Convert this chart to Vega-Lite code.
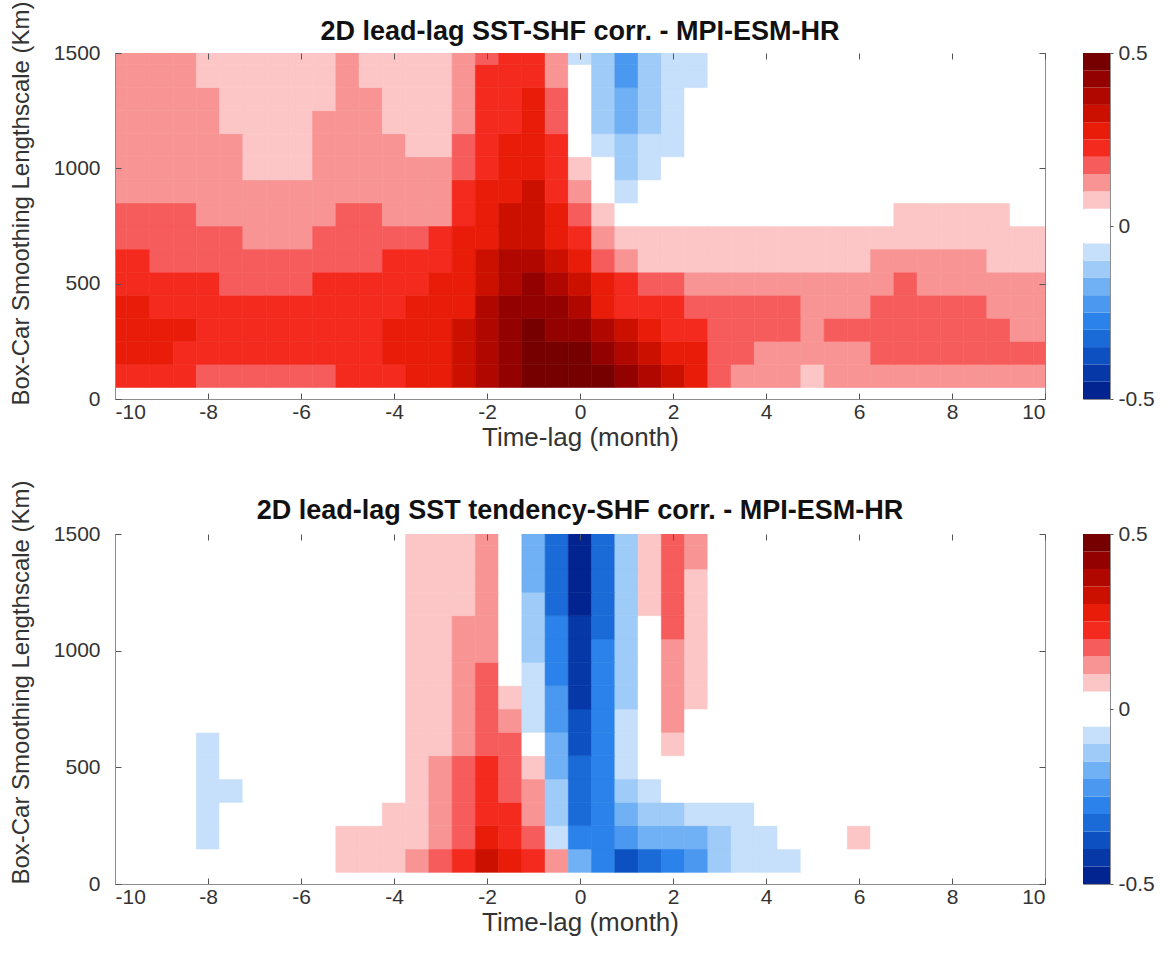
{
"$schema":"https://vega.github.io/schema/vega-lite/v6.json",
"background":"white",
"padding":{"left":8,"top":0,"right":5,"bottom":5},
"config":{"font":"Liberation Sans","view":{"stroke":"#8c8c8c","strokeWidth":1},
"axis":{"labelFont":"Liberation Sans","labelFontSize":21,"labelColor":"#333333","titleFont":"Liberation Sans","titleFontSize":25,"titleFontWeight":"normal","titleColor":"#333333","domainColor":"#8c8c8c","tickColor":"#555555","grid":false},
"title":{"font":"Liberation Sans","fontSize":27,"fontWeight":"bold","color":"#111111","offset":-45,"frame":"group"}},
"datasets":{
"bar":[{"lo":-0.5,"hi":-0.45},{"lo":-0.45,"hi":-0.4},{"lo":-0.4,"hi":-0.35},{"lo":-0.35,"hi":-0.3},{"lo":-0.3,"hi":-0.25},{"lo":-0.25,"hi":-0.2},{"lo":-0.2,"hi":-0.15},{"lo":-0.15,"hi":-0.1},{"lo":-0.1,"hi":-0.05},{"lo":-0.05,"hi":0},{"lo":0,"hi":0.05},{"lo":0.05,"hi":0.1},{"lo":0.1,"hi":0.15},{"lo":0.15,"hi":0.2},{"lo":0.2,"hi":0.25},{"lo":0.25,"hi":0.3},{"lo":0.3,"hi":0.35},{"lo":0.35,"hi":0.4},{"lo":0.4,"hi":0.45},{"lo":0.45,"hi":0.5}],
"sst":[
{"lag":-10,"km":100,"r":0.23},{"lag":-9.5,"km":100,"r":0.23},{"lag":-9,"km":100,"r":0.23},{"lag":-8.5,"km":100,"r":0.23},{"lag":-8,"km":100,"r":0.18},{"lag":-7.5,"km":100,"r":0.18},{"lag":-7,"km":100,"r":0.18},{"lag":-6.5,"km":100,"r":0.18},{"lag":-6,"km":100,"r":0.18},{"lag":-5.5,"km":100,"r":0.18},{"lag":-5,"km":100,"r":0.23},{"lag":-4.5,"km":100,"r":0.23},{"lag":-4,"km":100,"r":0.23},{"lag":-3.5,"km":100,"r":0.28},{"lag":-3,"km":100,"r":0.28},{"lag":-2.5,"km":100,"r":0.33},{"lag":-2,"km":100,"r":0.38},{"lag":-1.5,"km":100,"r":0.43},{"lag":-1,"km":100,"r":0.48},{"lag":-0.5,"km":100,"r":0.48},{"lag":0,"km":100,"r":0.48},{"lag":0.5,"km":100,"r":0.48},{"lag":1,"km":100,"r":0.43},{"lag":1.5,"km":100,"r":0.38},{"lag":2,"km":100,"r":0.33},{"lag":2.5,"km":100,"r":0.28},{"lag":3,"km":100,"r":0.18},{"lag":3.5,"km":100,"r":0.13},{"lag":4,"km":100,"r":0.13},{"lag":4.5,"km":100,"r":0.13},{"lag":5,"km":100,"r":0.08},{"lag":5.5,"km":100,"r":0.13},{"lag":6,"km":100,"r":0.13},{"lag":6.5,"km":100,"r":0.13},{"lag":7,"km":100,"r":0.13},{"lag":7.5,"km":100,"r":0.13},{"lag":8,"km":100,"r":0.13},{"lag":8.5,"km":100,"r":0.13},{"lag":9,"km":100,"r":0.13},{"lag":9.5,"km":100,"r":0.13},{"lag":10,"km":100,"r":0.13},
{"lag":-10,"km":200,"r":0.28},{"lag":-9.5,"km":200,"r":0.28},{"lag":-9,"km":200,"r":0.28},{"lag":-8.5,"km":200,"r":0.23},{"lag":-8,"km":200,"r":0.23},{"lag":-7.5,"km":200,"r":0.23},{"lag":-7,"km":200,"r":0.23},{"lag":-6.5,"km":200,"r":0.23},{"lag":-6,"km":200,"r":0.23},{"lag":-5.5,"km":200,"r":0.23},{"lag":-5,"km":200,"r":0.23},{"lag":-4.5,"km":200,"r":0.23},{"lag":-4,"km":200,"r":0.28},{"lag":-3.5,"km":200,"r":0.28},{"lag":-3,"km":200,"r":0.28},{"lag":-2.5,"km":200,"r":0.33},{"lag":-2,"km":200,"r":0.38},{"lag":-1.5,"km":200,"r":0.43},{"lag":-1,"km":200,"r":0.48},{"lag":-0.5,"km":200,"r":0.48},{"lag":0,"km":200,"r":0.48},{"lag":0.5,"km":200,"r":0.43},{"lag":1,"km":200,"r":0.38},{"lag":1.5,"km":200,"r":0.33},{"lag":2,"km":200,"r":0.28},{"lag":2.5,"km":200,"r":0.28},{"lag":3,"km":200,"r":0.18},{"lag":3.5,"km":200,"r":0.18},{"lag":4,"km":200,"r":0.13},{"lag":4.5,"km":200,"r":0.13},{"lag":5,"km":200,"r":0.13},{"lag":5.5,"km":200,"r":0.13},{"lag":6,"km":200,"r":0.13},{"lag":6.5,"km":200,"r":0.18},{"lag":7,"km":200,"r":0.18},{"lag":7.5,"km":200,"r":0.18},{"lag":8,"km":200,"r":0.18},{"lag":8.5,"km":200,"r":0.18},{"lag":9,"km":200,"r":0.18},{"lag":9.5,"km":200,"r":0.18},{"lag":10,"km":200,"r":0.18},
{"lag":-10,"km":300,"r":0.28},{"lag":-9.5,"km":300,"r":0.28},{"lag":-9,"km":300,"r":0.28},{"lag":-8.5,"km":300,"r":0.28},{"lag":-8,"km":300,"r":0.23},{"lag":-7.5,"km":300,"r":0.23},{"lag":-7,"km":300,"r":0.23},{"lag":-6.5,"km":300,"r":0.23},{"lag":-6,"km":300,"r":0.23},{"lag":-5.5,"km":300,"r":0.23},{"lag":-5,"km":300,"r":0.23},{"lag":-4.5,"km":300,"r":0.23},{"lag":-4,"km":300,"r":0.28},{"lag":-3.5,"km":300,"r":0.28},{"lag":-3,"km":300,"r":0.28},{"lag":-2.5,"km":300,"r":0.33},{"lag":-2,"km":300,"r":0.38},{"lag":-1.5,"km":300,"r":0.43},{"lag":-1,"km":300,"r":0.48},{"lag":-0.5,"km":300,"r":0.43},{"lag":0,"km":300,"r":0.43},{"lag":0.5,"km":300,"r":0.38},{"lag":1,"km":300,"r":0.33},{"lag":1.5,"km":300,"r":0.28},{"lag":2,"km":300,"r":0.23},{"lag":2.5,"km":300,"r":0.23},{"lag":3,"km":300,"r":0.18},{"lag":3.5,"km":300,"r":0.18},{"lag":4,"km":300,"r":0.18},{"lag":4.5,"km":300,"r":0.18},{"lag":5,"km":300,"r":0.13},{"lag":5.5,"km":300,"r":0.18},{"lag":6,"km":300,"r":0.18},{"lag":6.5,"km":300,"r":0.18},{"lag":7,"km":300,"r":0.18},{"lag":7.5,"km":300,"r":0.18},{"lag":8,"km":300,"r":0.18},{"lag":8.5,"km":300,"r":0.18},{"lag":9,"km":300,"r":0.18},{"lag":9.5,"km":300,"r":0.13},{"lag":10,"km":300,"r":0.13},
{"lag":-10,"km":400,"r":0.28},{"lag":-9.5,"km":400,"r":0.28},{"lag":-9,"km":400,"r":0.23},{"lag":-8.5,"km":400,"r":0.23},{"lag":-8,"km":400,"r":0.23},{"lag":-7.5,"km":400,"r":0.23},{"lag":-7,"km":400,"r":0.23},{"lag":-6.5,"km":400,"r":0.23},{"lag":-6,"km":400,"r":0.23},{"lag":-5.5,"km":400,"r":0.23},{"lag":-5,"km":400,"r":0.23},{"lag":-4.5,"km":400,"r":0.23},{"lag":-4,"km":400,"r":0.23},{"lag":-3.5,"km":400,"r":0.28},{"lag":-3,"km":400,"r":0.28},{"lag":-2.5,"km":400,"r":0.28},{"lag":-2,"km":400,"r":0.38},{"lag":-1.5,"km":400,"r":0.43},{"lag":-1,"km":400,"r":0.43},{"lag":-0.5,"km":400,"r":0.43},{"lag":0,"km":400,"r":0.38},{"lag":0.5,"km":400,"r":0.28},{"lag":1,"km":400,"r":0.23},{"lag":1.5,"km":400,"r":0.23},{"lag":2,"km":400,"r":0.23},{"lag":2.5,"km":400,"r":0.18},{"lag":3,"km":400,"r":0.18},{"lag":3.5,"km":400,"r":0.18},{"lag":4,"km":400,"r":0.18},{"lag":4.5,"km":400,"r":0.18},{"lag":5,"km":400,"r":0.13},{"lag":5.5,"km":400,"r":0.13},{"lag":6,"km":400,"r":0.13},{"lag":6.5,"km":400,"r":0.18},{"lag":7,"km":400,"r":0.18},{"lag":7.5,"km":400,"r":0.18},{"lag":8,"km":400,"r":0.18},{"lag":8.5,"km":400,"r":0.18},{"lag":9,"km":400,"r":0.13},{"lag":9.5,"km":400,"r":0.13},{"lag":10,"km":400,"r":0.13},
{"lag":-10,"km":500,"r":0.23},{"lag":-9.5,"km":500,"r":0.23},{"lag":-9,"km":500,"r":0.23},{"lag":-8.5,"km":500,"r":0.23},{"lag":-8,"km":500,"r":0.23},{"lag":-7.5,"km":500,"r":0.18},{"lag":-7,"km":500,"r":0.18},{"lag":-6.5,"km":500,"r":0.18},{"lag":-6,"km":500,"r":0.18},{"lag":-5.5,"km":500,"r":0.23},{"lag":-5,"km":500,"r":0.23},{"lag":-4.5,"km":500,"r":0.23},{"lag":-4,"km":500,"r":0.23},{"lag":-3.5,"km":500,"r":0.23},{"lag":-3,"km":500,"r":0.28},{"lag":-2.5,"km":500,"r":0.28},{"lag":-2,"km":500,"r":0.33},{"lag":-1.5,"km":500,"r":0.38},{"lag":-1,"km":500,"r":0.43},{"lag":-0.5,"km":500,"r":0.38},{"lag":0,"km":500,"r":0.33},{"lag":0.5,"km":500,"r":0.28},{"lag":1,"km":500,"r":0.23},{"lag":1.5,"km":500,"r":0.18},{"lag":2,"km":500,"r":0.18},{"lag":2.5,"km":500,"r":0.13},{"lag":3,"km":500,"r":0.13},{"lag":3.5,"km":500,"r":0.13},{"lag":4,"km":500,"r":0.13},{"lag":4.5,"km":500,"r":0.13},{"lag":5,"km":500,"r":0.13},{"lag":5.5,"km":500,"r":0.13},{"lag":6,"km":500,"r":0.13},{"lag":6.5,"km":500,"r":0.13},{"lag":7,"km":500,"r":0.18},{"lag":7.5,"km":500,"r":0.13},{"lag":8,"km":500,"r":0.13},{"lag":8.5,"km":500,"r":0.13},{"lag":9,"km":500,"r":0.13},{"lag":9.5,"km":500,"r":0.13},{"lag":10,"km":500,"r":0.13},
{"lag":-10,"km":600,"r":0.23},{"lag":-9.5,"km":600,"r":0.23},{"lag":-9,"km":600,"r":0.18},{"lag":-8.5,"km":600,"r":0.18},{"lag":-8,"km":600,"r":0.18},{"lag":-7.5,"km":600,"r":0.18},{"lag":-7,"km":600,"r":0.18},{"lag":-6.5,"km":600,"r":0.18},{"lag":-6,"km":600,"r":0.18},{"lag":-5.5,"km":600,"r":0.18},{"lag":-5,"km":600,"r":0.18},{"lag":-4.5,"km":600,"r":0.18},{"lag":-4,"km":600,"r":0.23},{"lag":-3.5,"km":600,"r":0.23},{"lag":-3,"km":600,"r":0.23},{"lag":-2.5,"km":600,"r":0.28},{"lag":-2,"km":600,"r":0.33},{"lag":-1.5,"km":600,"r":0.38},{"lag":-1,"km":600,"r":0.38},{"lag":-0.5,"km":600,"r":0.33},{"lag":0,"km":600,"r":0.28},{"lag":0.5,"km":600,"r":0.18},{"lag":1,"km":600,"r":0.13},{"lag":1.5,"km":600,"r":0.08},{"lag":2,"km":600,"r":0.08},{"lag":2.5,"km":600,"r":0.08},{"lag":3,"km":600,"r":0.08},{"lag":3.5,"km":600,"r":0.08},{"lag":4,"km":600,"r":0.08},{"lag":4.5,"km":600,"r":0.08},{"lag":5,"km":600,"r":0.08},{"lag":5.5,"km":600,"r":0.08},{"lag":6,"km":600,"r":0.08},{"lag":6.5,"km":600,"r":0.13},{"lag":7,"km":600,"r":0.13},{"lag":7.5,"km":600,"r":0.13},{"lag":8,"km":600,"r":0.13},{"lag":8.5,"km":600,"r":0.13},{"lag":9,"km":600,"r":0.08},{"lag":9.5,"km":600,"r":0.08},{"lag":10,"km":600,"r":0.08},
{"lag":-10,"km":700,"r":0.18},{"lag":-9.5,"km":700,"r":0.18},{"lag":-9,"km":700,"r":0.18},{"lag":-8.5,"km":700,"r":0.18},{"lag":-8,"km":700,"r":0.18},{"lag":-7.5,"km":700,"r":0.18},{"lag":-7,"km":700,"r":0.13},{"lag":-6.5,"km":700,"r":0.13},{"lag":-6,"km":700,"r":0.13},{"lag":-5.5,"km":700,"r":0.18},{"lag":-5,"km":700,"r":0.18},{"lag":-4.5,"km":700,"r":0.18},{"lag":-4,"km":700,"r":0.18},{"lag":-3.5,"km":700,"r":0.18},{"lag":-3,"km":700,"r":0.23},{"lag":-2.5,"km":700,"r":0.28},{"lag":-2,"km":700,"r":0.28},{"lag":-1.5,"km":700,"r":0.33},{"lag":-1,"km":700,"r":0.33},{"lag":-0.5,"km":700,"r":0.28},{"lag":0,"km":700,"r":0.23},{"lag":0.5,"km":700,"r":0.13},{"lag":1,"km":700,"r":0.08},{"lag":1.5,"km":700,"r":0.08},{"lag":2,"km":700,"r":0.08},{"lag":2.5,"km":700,"r":0.08},{"lag":3,"km":700,"r":0.08},{"lag":3.5,"km":700,"r":0.08},{"lag":4,"km":700,"r":0.08},{"lag":4.5,"km":700,"r":0.08},{"lag":5,"km":700,"r":0.08},{"lag":5.5,"km":700,"r":0.08},{"lag":6,"km":700,"r":0.08},{"lag":6.5,"km":700,"r":0.08},{"lag":7,"km":700,"r":0.08},{"lag":7.5,"km":700,"r":0.08},{"lag":8,"km":700,"r":0.08},{"lag":8.5,"km":700,"r":0.08},{"lag":9,"km":700,"r":0.08},{"lag":9.5,"km":700,"r":0.08},{"lag":10,"km":700,"r":0.08},
{"lag":-10,"km":800,"r":0.18},{"lag":-9.5,"km":800,"r":0.18},{"lag":-9,"km":800,"r":0.18},{"lag":-8.5,"km":800,"r":0.18},{"lag":-8,"km":800,"r":0.13},{"lag":-7.5,"km":800,"r":0.13},{"lag":-7,"km":800,"r":0.13},{"lag":-6.5,"km":800,"r":0.13},{"lag":-6,"km":800,"r":0.13},{"lag":-5.5,"km":800,"r":0.13},{"lag":-5,"km":800,"r":0.18},{"lag":-4.5,"km":800,"r":0.18},{"lag":-4,"km":800,"r":0.13},{"lag":-3.5,"km":800,"r":0.13},{"lag":-3,"km":800,"r":0.13},{"lag":-2.5,"km":800,"r":0.23},{"lag":-2,"km":800,"r":0.28},{"lag":-1.5,"km":800,"r":0.33},{"lag":-1,"km":800,"r":0.33},{"lag":-0.5,"km":800,"r":0.28},{"lag":0,"km":800,"r":0.18},{"lag":0.5,"km":800,"r":0.08},{"lag":1,"km":800,"r":0},{"lag":1.5,"km":800,"r":0},{"lag":2,"km":800,"r":0},{"lag":2.5,"km":800,"r":0},{"lag":3,"km":800,"r":0},{"lag":3.5,"km":800,"r":0},{"lag":4,"km":800,"r":0},{"lag":4.5,"km":800,"r":0},{"lag":5,"km":800,"r":0},{"lag":5.5,"km":800,"r":0},{"lag":6,"km":800,"r":0},{"lag":6.5,"km":800,"r":0},{"lag":7,"km":800,"r":0.08},{"lag":7.5,"km":800,"r":0.08},{"lag":8,"km":800,"r":0.08},{"lag":8.5,"km":800,"r":0.08},{"lag":9,"km":800,"r":0.08},{"lag":9.5,"km":800,"r":0},{"lag":10,"km":800,"r":0},
{"lag":-10,"km":900,"r":0.13},{"lag":-9.5,"km":900,"r":0.13},{"lag":-9,"km":900,"r":0.13},{"lag":-8.5,"km":900,"r":0.13},{"lag":-8,"km":900,"r":0.13},{"lag":-7.5,"km":900,"r":0.13},{"lag":-7,"km":900,"r":0.13},{"lag":-6.5,"km":900,"r":0.13},{"lag":-6,"km":900,"r":0.13},{"lag":-5.5,"km":900,"r":0.13},{"lag":-5,"km":900,"r":0.13},{"lag":-4.5,"km":900,"r":0.13},{"lag":-4,"km":900,"r":0.13},{"lag":-3.5,"km":900,"r":0.13},{"lag":-3,"km":900,"r":0.13},{"lag":-2.5,"km":900,"r":0.23},{"lag":-2,"km":900,"r":0.28},{"lag":-1.5,"km":900,"r":0.28},{"lag":-1,"km":900,"r":0.33},{"lag":-0.5,"km":900,"r":0.23},{"lag":0,"km":900,"r":0.13},{"lag":0.5,"km":900,"r":0},{"lag":1,"km":900,"r":-0.08},{"lag":1.5,"km":900,"r":0},{"lag":2,"km":900,"r":0},{"lag":2.5,"km":900,"r":0},{"lag":3,"km":900,"r":0},{"lag":3.5,"km":900,"r":0},{"lag":4,"km":900,"r":0},{"lag":4.5,"km":900,"r":0},{"lag":5,"km":900,"r":0},{"lag":5.5,"km":900,"r":0},{"lag":6,"km":900,"r":0},{"lag":6.5,"km":900,"r":0},{"lag":7,"km":900,"r":0},{"lag":7.5,"km":900,"r":0},{"lag":8,"km":900,"r":0},{"lag":8.5,"km":900,"r":0},{"lag":9,"km":900,"r":0},{"lag":9.5,"km":900,"r":0},{"lag":10,"km":900,"r":0},
{"lag":-10,"km":1000,"r":0.13},{"lag":-9.5,"km":1000,"r":0.13},{"lag":-9,"km":1000,"r":0.13},{"lag":-8.5,"km":1000,"r":0.13},{"lag":-8,"km":1000,"r":0.13},{"lag":-7.5,"km":1000,"r":0.13},{"lag":-7,"km":1000,"r":0.08},{"lag":-6.5,"km":1000,"r":0.08},{"lag":-6,"km":1000,"r":0.08},{"lag":-5.5,"km":1000,"r":0.13},{"lag":-5,"km":1000,"r":0.13},{"lag":-4.5,"km":1000,"r":0.13},{"lag":-4,"km":1000,"r":0.13},{"lag":-3.5,"km":1000,"r":0.13},{"lag":-3,"km":1000,"r":0.13},{"lag":-2.5,"km":1000,"r":0.18},{"lag":-2,"km":1000,"r":0.23},{"lag":-1.5,"km":1000,"r":0.28},{"lag":-1,"km":1000,"r":0.28},{"lag":-0.5,"km":1000,"r":0.23},{"lag":0,"km":1000,"r":0.08},{"lag":0.5,"km":1000,"r":0},{"lag":1,"km":1000,"r":-0.13},{"lag":1.5,"km":1000,"r":-0.08},{"lag":2,"km":1000,"r":0},{"lag":2.5,"km":1000,"r":0},{"lag":3,"km":1000,"r":0},{"lag":3.5,"km":1000,"r":0},{"lag":4,"km":1000,"r":0},{"lag":4.5,"km":1000,"r":0},{"lag":5,"km":1000,"r":0},{"lag":5.5,"km":1000,"r":0},{"lag":6,"km":1000,"r":0},{"lag":6.5,"km":1000,"r":0},{"lag":7,"km":1000,"r":0},{"lag":7.5,"km":1000,"r":0},{"lag":8,"km":1000,"r":0},{"lag":8.5,"km":1000,"r":0},{"lag":9,"km":1000,"r":0},{"lag":9.5,"km":1000,"r":0},{"lag":10,"km":1000,"r":0},
{"lag":-10,"km":1100,"r":0.13},{"lag":-9.5,"km":1100,"r":0.13},{"lag":-9,"km":1100,"r":0.13},{"lag":-8.5,"km":1100,"r":0.13},{"lag":-8,"km":1100,"r":0.13},{"lag":-7.5,"km":1100,"r":0.13},{"lag":-7,"km":1100,"r":0.08},{"lag":-6.5,"km":1100,"r":0.08},{"lag":-6,"km":1100,"r":0.08},{"lag":-5.5,"km":1100,"r":0.13},{"lag":-5,"km":1100,"r":0.13},{"lag":-4.5,"km":1100,"r":0.13},{"lag":-4,"km":1100,"r":0.13},{"lag":-3.5,"km":1100,"r":0.08},{"lag":-3,"km":1100,"r":0.08},{"lag":-2.5,"km":1100,"r":0.18},{"lag":-2,"km":1100,"r":0.23},{"lag":-1.5,"km":1100,"r":0.28},{"lag":-1,"km":1100,"r":0.28},{"lag":-0.5,"km":1100,"r":0.23},{"lag":0,"km":1100,"r":0},{"lag":0.5,"km":1100,"r":-0.08},{"lag":1,"km":1100,"r":-0.13},{"lag":1.5,"km":1100,"r":-0.08},{"lag":2,"km":1100,"r":-0.08},{"lag":2.5,"km":1100,"r":0},{"lag":3,"km":1100,"r":0},{"lag":3.5,"km":1100,"r":0},{"lag":4,"km":1100,"r":0},{"lag":4.5,"km":1100,"r":0},{"lag":5,"km":1100,"r":0},{"lag":5.5,"km":1100,"r":0},{"lag":6,"km":1100,"r":0},{"lag":6.5,"km":1100,"r":0},{"lag":7,"km":1100,"r":0},{"lag":7.5,"km":1100,"r":0},{"lag":8,"km":1100,"r":0},{"lag":8.5,"km":1100,"r":0},{"lag":9,"km":1100,"r":0},{"lag":9.5,"km":1100,"r":0},{"lag":10,"km":1100,"r":0},
{"lag":-10,"km":1200,"r":0.13},{"lag":-9.5,"km":1200,"r":0.13},{"lag":-9,"km":1200,"r":0.13},{"lag":-8.5,"km":1200,"r":0.13},{"lag":-8,"km":1200,"r":0.13},{"lag":-7.5,"km":1200,"r":0.08},{"lag":-7,"km":1200,"r":0.08},{"lag":-6.5,"km":1200,"r":0.08},{"lag":-6,"km":1200,"r":0.08},{"lag":-5.5,"km":1200,"r":0.13},{"lag":-5,"km":1200,"r":0.13},{"lag":-4.5,"km":1200,"r":0.13},{"lag":-4,"km":1200,"r":0.08},{"lag":-3.5,"km":1200,"r":0.08},{"lag":-3,"km":1200,"r":0.08},{"lag":-2.5,"km":1200,"r":0.13},{"lag":-2,"km":1200,"r":0.23},{"lag":-1.5,"km":1200,"r":0.23},{"lag":-1,"km":1200,"r":0.28},{"lag":-0.5,"km":1200,"r":0.18},{"lag":0,"km":1200,"r":0},{"lag":0.5,"km":1200,"r":-0.13},{"lag":1,"km":1200,"r":-0.18},{"lag":1.5,"km":1200,"r":-0.13},{"lag":2,"km":1200,"r":-0.08},{"lag":2.5,"km":1200,"r":0},{"lag":3,"km":1200,"r":0},{"lag":3.5,"km":1200,"r":0},{"lag":4,"km":1200,"r":0},{"lag":4.5,"km":1200,"r":0},{"lag":5,"km":1200,"r":0},{"lag":5.5,"km":1200,"r":0},{"lag":6,"km":1200,"r":0},{"lag":6.5,"km":1200,"r":0},{"lag":7,"km":1200,"r":0},{"lag":7.5,"km":1200,"r":0},{"lag":8,"km":1200,"r":0},{"lag":8.5,"km":1200,"r":0},{"lag":9,"km":1200,"r":0},{"lag":9.5,"km":1200,"r":0},{"lag":10,"km":1200,"r":0},
{"lag":-10,"km":1300,"r":0.13},{"lag":-9.5,"km":1300,"r":0.13},{"lag":-9,"km":1300,"r":0.13},{"lag":-8.5,"km":1300,"r":0.13},{"lag":-8,"km":1300,"r":0.13},{"lag":-7.5,"km":1300,"r":0.08},{"lag":-7,"km":1300,"r":0.08},{"lag":-6.5,"km":1300,"r":0.08},{"lag":-6,"km":1300,"r":0.08},{"lag":-5.5,"km":1300,"r":0.08},{"lag":-5,"km":1300,"r":0.13},{"lag":-4.5,"km":1300,"r":0.13},{"lag":-4,"km":1300,"r":0.08},{"lag":-3.5,"km":1300,"r":0.08},{"lag":-3,"km":1300,"r":0.08},{"lag":-2.5,"km":1300,"r":0.13},{"lag":-2,"km":1300,"r":0.23},{"lag":-1.5,"km":1300,"r":0.23},{"lag":-1,"km":1300,"r":0.28},{"lag":-0.5,"km":1300,"r":0.18},{"lag":0,"km":1300,"r":0},{"lag":0.5,"km":1300,"r":-0.13},{"lag":1,"km":1300,"r":-0.18},{"lag":1.5,"km":1300,"r":-0.13},{"lag":2,"km":1300,"r":-0.08},{"lag":2.5,"km":1300,"r":0},{"lag":3,"km":1300,"r":0},{"lag":3.5,"km":1300,"r":0},{"lag":4,"km":1300,"r":0},{"lag":4.5,"km":1300,"r":0},{"lag":5,"km":1300,"r":0},{"lag":5.5,"km":1300,"r":0},{"lag":6,"km":1300,"r":0},{"lag":6.5,"km":1300,"r":0},{"lag":7,"km":1300,"r":0},{"lag":7.5,"km":1300,"r":0},{"lag":8,"km":1300,"r":0},{"lag":8.5,"km":1300,"r":0},{"lag":9,"km":1300,"r":0},{"lag":9.5,"km":1300,"r":0},{"lag":10,"km":1300,"r":0},
{"lag":-10,"km":1400,"r":0.13},{"lag":-9.5,"km":1400,"r":0.13},{"lag":-9,"km":1400,"r":0.13},{"lag":-8.5,"km":1400,"r":0.13},{"lag":-8,"km":1400,"r":0.08},{"lag":-7.5,"km":1400,"r":0.08},{"lag":-7,"km":1400,"r":0.08},{"lag":-6.5,"km":1400,"r":0.08},{"lag":-6,"km":1400,"r":0.08},{"lag":-5.5,"km":1400,"r":0.08},{"lag":-5,"km":1400,"r":0.13},{"lag":-4.5,"km":1400,"r":0.08},{"lag":-4,"km":1400,"r":0.08},{"lag":-3.5,"km":1400,"r":0.08},{"lag":-3,"km":1400,"r":0.08},{"lag":-2.5,"km":1400,"r":0.13},{"lag":-2,"km":1400,"r":0.23},{"lag":-1.5,"km":1400,"r":0.23},{"lag":-1,"km":1400,"r":0.23},{"lag":-0.5,"km":1400,"r":0.13},{"lag":0,"km":1400,"r":0},{"lag":0.5,"km":1400,"r":-0.13},{"lag":1,"km":1400,"r":-0.23},{"lag":1.5,"km":1400,"r":-0.13},{"lag":2,"km":1400,"r":-0.08},{"lag":2.5,"km":1400,"r":-0.08},{"lag":3,"km":1400,"r":0},{"lag":3.5,"km":1400,"r":0},{"lag":4,"km":1400,"r":0},{"lag":4.5,"km":1400,"r":0},{"lag":5,"km":1400,"r":0},{"lag":5.5,"km":1400,"r":0},{"lag":6,"km":1400,"r":0},{"lag":6.5,"km":1400,"r":0},{"lag":7,"km":1400,"r":0},{"lag":7.5,"km":1400,"r":0},{"lag":8,"km":1400,"r":0},{"lag":8.5,"km":1400,"r":0},{"lag":9,"km":1400,"r":0},{"lag":9.5,"km":1400,"r":0},{"lag":10,"km":1400,"r":0},
{"lag":-10,"km":1500,"r":0.13},{"lag":-9.5,"km":1500,"r":0.13},{"lag":-9,"km":1500,"r":0.13},{"lag":-8.5,"km":1500,"r":0.13},{"lag":-8,"km":1500,"r":0.08},{"lag":-7.5,"km":1500,"r":0.08},{"lag":-7,"km":1500,"r":0.08},{"lag":-6.5,"km":1500,"r":0.08},{"lag":-6,"km":1500,"r":0.08},{"lag":-5.5,"km":1500,"r":0.08},{"lag":-5,"km":1500,"r":0.13},{"lag":-4.5,"km":1500,"r":0.08},{"lag":-4,"km":1500,"r":0.08},{"lag":-3.5,"km":1500,"r":0.08},{"lag":-3,"km":1500,"r":0.08},{"lag":-2.5,"km":1500,"r":0.13},{"lag":-2,"km":1500,"r":0.18},{"lag":-1.5,"km":1500,"r":0.23},{"lag":-1,"km":1500,"r":0.23},{"lag":-0.5,"km":1500,"r":0.13},{"lag":0,"km":1500,"r":-0.08},{"lag":0.5,"km":1500,"r":-0.13},{"lag":1,"km":1500,"r":-0.23},{"lag":1.5,"km":1500,"r":-0.13},{"lag":2,"km":1500,"r":-0.08},{"lag":2.5,"km":1500,"r":-0.08},{"lag":3,"km":1500,"r":0},{"lag":3.5,"km":1500,"r":0},{"lag":4,"km":1500,"r":0},{"lag":4.5,"km":1500,"r":0},{"lag":5,"km":1500,"r":0},{"lag":5.5,"km":1500,"r":0},{"lag":6,"km":1500,"r":0},{"lag":6.5,"km":1500,"r":0},{"lag":7,"km":1500,"r":0},{"lag":7.5,"km":1500,"r":0},{"lag":8,"km":1500,"r":0},{"lag":8.5,"km":1500,"r":0},{"lag":9,"km":1500,"r":0},{"lag":9.5,"km":1500,"r":0},{"lag":10,"km":1500,"r":0}
],
"tend":[
{"lag":-10,"km":100,"r":0},{"lag":-9.5,"km":100,"r":0},{"lag":-9,"km":100,"r":0},{"lag":-8.5,"km":100,"r":0},{"lag":-8,"km":100,"r":0},{"lag":-7.5,"km":100,"r":0},{"lag":-7,"km":100,"r":0},{"lag":-6.5,"km":100,"r":0},{"lag":-6,"km":100,"r":0},{"lag":-5.5,"km":100,"r":0},{"lag":-5,"km":100,"r":0.08},{"lag":-4.5,"km":100,"r":0.08},{"lag":-4,"km":100,"r":0.08},{"lag":-3.5,"km":100,"r":0.13},{"lag":-3,"km":100,"r":0.18},{"lag":-2.5,"km":100,"r":0.23},{"lag":-2,"km":100,"r":0.33},{"lag":-1.5,"km":100,"r":0.28},{"lag":-1,"km":100,"r":0.23},{"lag":-0.5,"km":100,"r":0.13},{"lag":0,"km":100,"r":-0.18},{"lag":0.5,"km":100,"r":-0.28},{"lag":1,"km":100,"r":-0.38},{"lag":1.5,"km":100,"r":-0.33},{"lag":2,"km":100,"r":-0.28},{"lag":2.5,"km":100,"r":-0.23},{"lag":3,"km":100,"r":-0.13},{"lag":3.5,"km":100,"r":-0.08},{"lag":4,"km":100,"r":-0.08},{"lag":4.5,"km":100,"r":-0.08},{"lag":5,"km":100,"r":0},{"lag":5.5,"km":100,"r":0},{"lag":6,"km":100,"r":0},{"lag":6.5,"km":100,"r":0},{"lag":7,"km":100,"r":0},{"lag":7.5,"km":100,"r":0},{"lag":8,"km":100,"r":0},{"lag":8.5,"km":100,"r":0},{"lag":9,"km":100,"r":0},{"lag":9.5,"km":100,"r":0},{"lag":10,"km":100,"r":0},
{"lag":-10,"km":200,"r":0},{"lag":-9.5,"km":200,"r":0},{"lag":-9,"km":200,"r":0},{"lag":-8.5,"km":200,"r":0},{"lag":-8,"km":200,"r":-0.08},{"lag":-7.5,"km":200,"r":0},{"lag":-7,"km":200,"r":0},{"lag":-6.5,"km":200,"r":0},{"lag":-6,"km":200,"r":0},{"lag":-5.5,"km":200,"r":0},{"lag":-5,"km":200,"r":0.08},{"lag":-4.5,"km":200,"r":0.08},{"lag":-4,"km":200,"r":0.08},{"lag":-3.5,"km":200,"r":0.08},{"lag":-3,"km":200,"r":0.13},{"lag":-2.5,"km":200,"r":0.18},{"lag":-2,"km":200,"r":0.28},{"lag":-1.5,"km":200,"r":0.23},{"lag":-1,"km":200,"r":0.18},{"lag":-0.5,"km":200,"r":-0.08},{"lag":0,"km":200,"r":-0.28},{"lag":0.5,"km":200,"r":-0.28},{"lag":1,"km":200,"r":-0.23},{"lag":1.5,"km":200,"r":-0.18},{"lag":2,"km":200,"r":-0.18},{"lag":2.5,"km":200,"r":-0.18},{"lag":3,"km":200,"r":-0.13},{"lag":3.5,"km":200,"r":-0.08},{"lag":4,"km":200,"r":-0.08},{"lag":4.5,"km":200,"r":0},{"lag":5,"km":200,"r":0},{"lag":5.5,"km":200,"r":0},{"lag":6,"km":200,"r":0.08},{"lag":6.5,"km":200,"r":0},{"lag":7,"km":200,"r":0},{"lag":7.5,"km":200,"r":0},{"lag":8,"km":200,"r":0},{"lag":8.5,"km":200,"r":0},{"lag":9,"km":200,"r":0},{"lag":9.5,"km":200,"r":0},{"lag":10,"km":200,"r":0},
{"lag":-10,"km":300,"r":0},{"lag":-9.5,"km":300,"r":0},{"lag":-9,"km":300,"r":0},{"lag":-8.5,"km":300,"r":0},{"lag":-8,"km":300,"r":-0.08},{"lag":-7.5,"km":300,"r":0},{"lag":-7,"km":300,"r":0},{"lag":-6.5,"km":300,"r":0},{"lag":-6,"km":300,"r":0},{"lag":-5.5,"km":300,"r":0},{"lag":-5,"km":300,"r":0},{"lag":-4.5,"km":300,"r":0},{"lag":-4,"km":300,"r":0.08},{"lag":-3.5,"km":300,"r":0.08},{"lag":-3,"km":300,"r":0.13},{"lag":-2.5,"km":300,"r":0.18},{"lag":-2,"km":300,"r":0.23},{"lag":-1.5,"km":300,"r":0.23},{"lag":-1,"km":300,"r":0.13},{"lag":-0.5,"km":300,"r":-0.13},{"lag":0,"km":300,"r":-0.33},{"lag":0.5,"km":300,"r":-0.28},{"lag":1,"km":300,"r":-0.18},{"lag":1.5,"km":300,"r":-0.13},{"lag":2,"km":300,"r":-0.13},{"lag":2.5,"km":300,"r":-0.08},{"lag":3,"km":300,"r":-0.08},{"lag":3.5,"km":300,"r":-0.08},{"lag":4,"km":300,"r":0},{"lag":4.5,"km":300,"r":0},{"lag":5,"km":300,"r":0},{"lag":5.5,"km":300,"r":0},{"lag":6,"km":300,"r":0},{"lag":6.5,"km":300,"r":0},{"lag":7,"km":300,"r":0},{"lag":7.5,"km":300,"r":0},{"lag":8,"km":300,"r":0},{"lag":8.5,"km":300,"r":0},{"lag":9,"km":300,"r":0},{"lag":9.5,"km":300,"r":0},{"lag":10,"km":300,"r":0},
{"lag":-10,"km":400,"r":0},{"lag":-9.5,"km":400,"r":0},{"lag":-9,"km":400,"r":0},{"lag":-8.5,"km":400,"r":0},{"lag":-8,"km":400,"r":-0.08},{"lag":-7.5,"km":400,"r":-0.08},{"lag":-7,"km":400,"r":0},{"lag":-6.5,"km":400,"r":0},{"lag":-6,"km":400,"r":0},{"lag":-5.5,"km":400,"r":0},{"lag":-5,"km":400,"r":0},{"lag":-4.5,"km":400,"r":0},{"lag":-4,"km":400,"r":0},{"lag":-3.5,"km":400,"r":0.08},{"lag":-3,"km":400,"r":0.13},{"lag":-2.5,"km":400,"r":0.18},{"lag":-2,"km":400,"r":0.23},{"lag":-1.5,"km":400,"r":0.18},{"lag":-1,"km":400,"r":0.13},{"lag":-0.5,"km":400,"r":-0.13},{"lag":0,"km":400,"r":-0.33},{"lag":0.5,"km":400,"r":-0.28},{"lag":1,"km":400,"r":-0.13},{"lag":1.5,"km":400,"r":-0.08},{"lag":2,"km":400,"r":0},{"lag":2.5,"km":400,"r":0},{"lag":3,"km":400,"r":0},{"lag":3.5,"km":400,"r":0},{"lag":4,"km":400,"r":0},{"lag":4.5,"km":400,"r":0},{"lag":5,"km":400,"r":0},{"lag":5.5,"km":400,"r":0},{"lag":6,"km":400,"r":0},{"lag":6.5,"km":400,"r":0},{"lag":7,"km":400,"r":0},{"lag":7.5,"km":400,"r":0},{"lag":8,"km":400,"r":0},{"lag":8.5,"km":400,"r":0},{"lag":9,"km":400,"r":0},{"lag":9.5,"km":400,"r":0},{"lag":10,"km":400,"r":0},
{"lag":-10,"km":500,"r":0},{"lag":-9.5,"km":500,"r":0},{"lag":-9,"km":500,"r":0},{"lag":-8.5,"km":500,"r":0},{"lag":-8,"km":500,"r":-0.08},{"lag":-7.5,"km":500,"r":0},{"lag":-7,"km":500,"r":0},{"lag":-6.5,"km":500,"r":0},{"lag":-6,"km":500,"r":0},{"lag":-5.5,"km":500,"r":0},{"lag":-5,"km":500,"r":0},{"lag":-4.5,"km":500,"r":0},{"lag":-4,"km":500,"r":0},{"lag":-3.5,"km":500,"r":0.08},{"lag":-3,"km":500,"r":0.13},{"lag":-2.5,"km":500,"r":0.18},{"lag":-2,"km":500,"r":0.23},{"lag":-1.5,"km":500,"r":0.18},{"lag":-1,"km":500,"r":0.08},{"lag":-0.5,"km":500,"r":-0.18},{"lag":0,"km":500,"r":-0.33},{"lag":0.5,"km":500,"r":-0.28},{"lag":1,"km":500,"r":-0.08},{"lag":1.5,"km":500,"r":0},{"lag":2,"km":500,"r":0},{"lag":2.5,"km":500,"r":0},{"lag":3,"km":500,"r":0},{"lag":3.5,"km":500,"r":0},{"lag":4,"km":500,"r":0},{"lag":4.5,"km":500,"r":0},{"lag":5,"km":500,"r":0},{"lag":5.5,"km":500,"r":0},{"lag":6,"km":500,"r":0},{"lag":6.5,"km":500,"r":0},{"lag":7,"km":500,"r":0},{"lag":7.5,"km":500,"r":0},{"lag":8,"km":500,"r":0},{"lag":8.5,"km":500,"r":0},{"lag":9,"km":500,"r":0},{"lag":9.5,"km":500,"r":0},{"lag":10,"km":500,"r":0},
{"lag":-10,"km":600,"r":0},{"lag":-9.5,"km":600,"r":0},{"lag":-9,"km":600,"r":0},{"lag":-8.5,"km":600,"r":0},{"lag":-8,"km":600,"r":-0.08},{"lag":-7.5,"km":600,"r":0},{"lag":-7,"km":600,"r":0},{"lag":-6.5,"km":600,"r":0},{"lag":-6,"km":600,"r":0},{"lag":-5.5,"km":600,"r":0},{"lag":-5,"km":600,"r":0},{"lag":-4.5,"km":600,"r":0},{"lag":-4,"km":600,"r":0},{"lag":-3.5,"km":600,"r":0.08},{"lag":-3,"km":600,"r":0.08},{"lag":-2.5,"km":600,"r":0.13},{"lag":-2,"km":600,"r":0.18},{"lag":-1.5,"km":600,"r":0.18},{"lag":-1,"km":600,"r":0},{"lag":-0.5,"km":600,"r":-0.18},{"lag":0,"km":600,"r":-0.38},{"lag":0.5,"km":600,"r":-0.28},{"lag":1,"km":600,"r":-0.08},{"lag":1.5,"km":600,"r":0},{"lag":2,"km":600,"r":0.08},{"lag":2.5,"km":600,"r":0},{"lag":3,"km":600,"r":0},{"lag":3.5,"km":600,"r":0},{"lag":4,"km":600,"r":0},{"lag":4.5,"km":600,"r":0},{"lag":5,"km":600,"r":0},{"lag":5.5,"km":600,"r":0},{"lag":6,"km":600,"r":0},{"lag":6.5,"km":600,"r":0},{"lag":7,"km":600,"r":0},{"lag":7.5,"km":600,"r":0},{"lag":8,"km":600,"r":0},{"lag":8.5,"km":600,"r":0},{"lag":9,"km":600,"r":0},{"lag":9.5,"km":600,"r":0},{"lag":10,"km":600,"r":0},
{"lag":-10,"km":700,"r":0},{"lag":-9.5,"km":700,"r":0},{"lag":-9,"km":700,"r":0},{"lag":-8.5,"km":700,"r":0},{"lag":-8,"km":700,"r":0},{"lag":-7.5,"km":700,"r":0},{"lag":-7,"km":700,"r":0},{"lag":-6.5,"km":700,"r":0},{"lag":-6,"km":700,"r":0},{"lag":-5.5,"km":700,"r":0},{"lag":-5,"km":700,"r":0},{"lag":-4.5,"km":700,"r":0},{"lag":-4,"km":700,"r":0},{"lag":-3.5,"km":700,"r":0.08},{"lag":-3,"km":700,"r":0.08},{"lag":-2.5,"km":700,"r":0.13},{"lag":-2,"km":700,"r":0.18},{"lag":-1.5,"km":700,"r":0.13},{"lag":-1,"km":700,"r":-0.08},{"lag":-0.5,"km":700,"r":-0.23},{"lag":0,"km":700,"r":-0.38},{"lag":0.5,"km":700,"r":-0.28},{"lag":1,"km":700,"r":-0.08},{"lag":1.5,"km":700,"r":0},{"lag":2,"km":700,"r":0.13},{"lag":2.5,"km":700,"r":0},{"lag":3,"km":700,"r":0},{"lag":3.5,"km":700,"r":0},{"lag":4,"km":700,"r":0},{"lag":4.5,"km":700,"r":0},{"lag":5,"km":700,"r":0},{"lag":5.5,"km":700,"r":0},{"lag":6,"km":700,"r":0},{"lag":6.5,"km":700,"r":0},{"lag":7,"km":700,"r":0},{"lag":7.5,"km":700,"r":0},{"lag":8,"km":700,"r":0},{"lag":8.5,"km":700,"r":0},{"lag":9,"km":700,"r":0},{"lag":9.5,"km":700,"r":0},{"lag":10,"km":700,"r":0},
{"lag":-10,"km":800,"r":0},{"lag":-9.5,"km":800,"r":0},{"lag":-9,"km":800,"r":0},{"lag":-8.5,"km":800,"r":0},{"lag":-8,"km":800,"r":0},{"lag":-7.5,"km":800,"r":0},{"lag":-7,"km":800,"r":0},{"lag":-6.5,"km":800,"r":0},{"lag":-6,"km":800,"r":0},{"lag":-5.5,"km":800,"r":0},{"lag":-5,"km":800,"r":0},{"lag":-4.5,"km":800,"r":0},{"lag":-4,"km":800,"r":0},{"lag":-3.5,"km":800,"r":0.08},{"lag":-3,"km":800,"r":0.08},{"lag":-2.5,"km":800,"r":0.13},{"lag":-2,"km":800,"r":0.18},{"lag":-1.5,"km":800,"r":0.08},{"lag":-1,"km":800,"r":-0.08},{"lag":-0.5,"km":800,"r":-0.23},{"lag":0,"km":800,"r":-0.43},{"lag":0.5,"km":800,"r":-0.28},{"lag":1,"km":800,"r":-0.13},{"lag":1.5,"km":800,"r":0},{"lag":2,"km":800,"r":0.13},{"lag":2.5,"km":800,"r":0.08},{"lag":3,"km":800,"r":0},{"lag":3.5,"km":800,"r":0},{"lag":4,"km":800,"r":0},{"lag":4.5,"km":800,"r":0},{"lag":5,"km":800,"r":0},{"lag":5.5,"km":800,"r":0},{"lag":6,"km":800,"r":0},{"lag":6.5,"km":800,"r":0},{"lag":7,"km":800,"r":0},{"lag":7.5,"km":800,"r":0},{"lag":8,"km":800,"r":0},{"lag":8.5,"km":800,"r":0},{"lag":9,"km":800,"r":0},{"lag":9.5,"km":800,"r":0},{"lag":10,"km":800,"r":0},
{"lag":-10,"km":900,"r":0},{"lag":-9.5,"km":900,"r":0},{"lag":-9,"km":900,"r":0},{"lag":-8.5,"km":900,"r":0},{"lag":-8,"km":900,"r":0},{"lag":-7.5,"km":900,"r":0},{"lag":-7,"km":900,"r":0},{"lag":-6.5,"km":900,"r":0},{"lag":-6,"km":900,"r":0},{"lag":-5.5,"km":900,"r":0},{"lag":-5,"km":900,"r":0},{"lag":-4.5,"km":900,"r":0},{"lag":-4,"km":900,"r":0},{"lag":-3.5,"km":900,"r":0.08},{"lag":-3,"km":900,"r":0.08},{"lag":-2.5,"km":900,"r":0.13},{"lag":-2,"km":900,"r":0.18},{"lag":-1.5,"km":900,"r":0},{"lag":-1,"km":900,"r":-0.08},{"lag":-0.5,"km":900,"r":-0.28},{"lag":0,"km":900,"r":-0.43},{"lag":0.5,"km":900,"r":-0.28},{"lag":1,"km":900,"r":-0.13},{"lag":1.5,"km":900,"r":0},{"lag":2,"km":900,"r":0.13},{"lag":2.5,"km":900,"r":0.08},{"lag":3,"km":900,"r":0},{"lag":3.5,"km":900,"r":0},{"lag":4,"km":900,"r":0},{"lag":4.5,"km":900,"r":0},{"lag":5,"km":900,"r":0},{"lag":5.5,"km":900,"r":0},{"lag":6,"km":900,"r":0},{"lag":6.5,"km":900,"r":0},{"lag":7,"km":900,"r":0},{"lag":7.5,"km":900,"r":0},{"lag":8,"km":900,"r":0},{"lag":8.5,"km":900,"r":0},{"lag":9,"km":900,"r":0},{"lag":9.5,"km":900,"r":0},{"lag":10,"km":900,"r":0},
{"lag":-10,"km":1000,"r":0},{"lag":-9.5,"km":1000,"r":0},{"lag":-9,"km":1000,"r":0},{"lag":-8.5,"km":1000,"r":0},{"lag":-8,"km":1000,"r":0},{"lag":-7.5,"km":1000,"r":0},{"lag":-7,"km":1000,"r":0},{"lag":-6.5,"km":1000,"r":0},{"lag":-6,"km":1000,"r":0},{"lag":-5.5,"km":1000,"r":0},{"lag":-5,"km":1000,"r":0},{"lag":-4.5,"km":1000,"r":0},{"lag":-4,"km":1000,"r":0},{"lag":-3.5,"km":1000,"r":0.08},{"lag":-3,"km":1000,"r":0.08},{"lag":-2.5,"km":1000,"r":0.13},{"lag":-2,"km":1000,"r":0.13},{"lag":-1.5,"km":1000,"r":0},{"lag":-1,"km":1000,"r":-0.13},{"lag":-0.5,"km":1000,"r":-0.28},{"lag":0,"km":1000,"r":-0.43},{"lag":0.5,"km":1000,"r":-0.28},{"lag":1,"km":1000,"r":-0.13},{"lag":1.5,"km":1000,"r":0},{"lag":2,"km":1000,"r":0.13},{"lag":2.5,"km":1000,"r":0.08},{"lag":3,"km":1000,"r":0},{"lag":3.5,"km":1000,"r":0},{"lag":4,"km":1000,"r":0},{"lag":4.5,"km":1000,"r":0},{"lag":5,"km":1000,"r":0},{"lag":5.5,"km":1000,"r":0},{"lag":6,"km":1000,"r":0},{"lag":6.5,"km":1000,"r":0},{"lag":7,"km":1000,"r":0},{"lag":7.5,"km":1000,"r":0},{"lag":8,"km":1000,"r":0},{"lag":8.5,"km":1000,"r":0},{"lag":9,"km":1000,"r":0},{"lag":9.5,"km":1000,"r":0},{"lag":10,"km":1000,"r":0},
{"lag":-10,"km":1100,"r":0},{"lag":-9.5,"km":1100,"r":0},{"lag":-9,"km":1100,"r":0},{"lag":-8.5,"km":1100,"r":0},{"lag":-8,"km":1100,"r":0},{"lag":-7.5,"km":1100,"r":0},{"lag":-7,"km":1100,"r":0},{"lag":-6.5,"km":1100,"r":0},{"lag":-6,"km":1100,"r":0},{"lag":-5.5,"km":1100,"r":0},{"lag":-5,"km":1100,"r":0},{"lag":-4.5,"km":1100,"r":0},{"lag":-4,"km":1100,"r":0},{"lag":-3.5,"km":1100,"r":0.08},{"lag":-3,"km":1100,"r":0.08},{"lag":-2.5,"km":1100,"r":0.13},{"lag":-2,"km":1100,"r":0.13},{"lag":-1.5,"km":1100,"r":0},{"lag":-1,"km":1100,"r":-0.13},{"lag":-0.5,"km":1100,"r":-0.28},{"lag":0,"km":1100,"r":-0.43},{"lag":0.5,"km":1100,"r":-0.33},{"lag":1,"km":1100,"r":-0.13},{"lag":1.5,"km":1100,"r":0},{"lag":2,"km":1100,"r":0.18},{"lag":2.5,"km":1100,"r":0.08},{"lag":3,"km":1100,"r":0},{"lag":3.5,"km":1100,"r":0},{"lag":4,"km":1100,"r":0},{"lag":4.5,"km":1100,"r":0},{"lag":5,"km":1100,"r":0},{"lag":5.5,"km":1100,"r":0},{"lag":6,"km":1100,"r":0},{"lag":6.5,"km":1100,"r":0},{"lag":7,"km":1100,"r":0},{"lag":7.5,"km":1100,"r":0},{"lag":8,"km":1100,"r":0},{"lag":8.5,"km":1100,"r":0},{"lag":9,"km":1100,"r":0},{"lag":9.5,"km":1100,"r":0},{"lag":10,"km":1100,"r":0},
{"lag":-10,"km":1200,"r":0},{"lag":-9.5,"km":1200,"r":0},{"lag":-9,"km":1200,"r":0},{"lag":-8.5,"km":1200,"r":0},{"lag":-8,"km":1200,"r":0},{"lag":-7.5,"km":1200,"r":0},{"lag":-7,"km":1200,"r":0},{"lag":-6.5,"km":1200,"r":0},{"lag":-6,"km":1200,"r":0},{"lag":-5.5,"km":1200,"r":0},{"lag":-5,"km":1200,"r":0},{"lag":-4.5,"km":1200,"r":0},{"lag":-4,"km":1200,"r":0},{"lag":-3.5,"km":1200,"r":0.08},{"lag":-3,"km":1200,"r":0.08},{"lag":-2.5,"km":1200,"r":0.08},{"lag":-2,"km":1200,"r":0.13},{"lag":-1.5,"km":1200,"r":0},{"lag":-1,"km":1200,"r":-0.13},{"lag":-0.5,"km":1200,"r":-0.33},{"lag":0,"km":1200,"r":-0.48},{"lag":0.5,"km":1200,"r":-0.33},{"lag":1,"km":1200,"r":-0.13},{"lag":1.5,"km":1200,"r":0.08},{"lag":2,"km":1200,"r":0.18},{"lag":2.5,"km":1200,"r":0.08},{"lag":3,"km":1200,"r":0},{"lag":3.5,"km":1200,"r":0},{"lag":4,"km":1200,"r":0},{"lag":4.5,"km":1200,"r":0},{"lag":5,"km":1200,"r":0},{"lag":5.5,"km":1200,"r":0},{"lag":6,"km":1200,"r":0},{"lag":6.5,"km":1200,"r":0},{"lag":7,"km":1200,"r":0},{"lag":7.5,"km":1200,"r":0},{"lag":8,"km":1200,"r":0},{"lag":8.5,"km":1200,"r":0},{"lag":9,"km":1200,"r":0},{"lag":9.5,"km":1200,"r":0},{"lag":10,"km":1200,"r":0},
{"lag":-10,"km":1300,"r":0},{"lag":-9.5,"km":1300,"r":0},{"lag":-9,"km":1300,"r":0},{"lag":-8.5,"km":1300,"r":0},{"lag":-8,"km":1300,"r":0},{"lag":-7.5,"km":1300,"r":0},{"lag":-7,"km":1300,"r":0},{"lag":-6.5,"km":1300,"r":0},{"lag":-6,"km":1300,"r":0},{"lag":-5.5,"km":1300,"r":0},{"lag":-5,"km":1300,"r":0},{"lag":-4.5,"km":1300,"r":0},{"lag":-4,"km":1300,"r":0},{"lag":-3.5,"km":1300,"r":0.08},{"lag":-3,"km":1300,"r":0.08},{"lag":-2.5,"km":1300,"r":0.08},{"lag":-2,"km":1300,"r":0.13},{"lag":-1.5,"km":1300,"r":0},{"lag":-1,"km":1300,"r":-0.18},{"lag":-0.5,"km":1300,"r":-0.33},{"lag":0,"km":1300,"r":-0.48},{"lag":0.5,"km":1300,"r":-0.33},{"lag":1,"km":1300,"r":-0.13},{"lag":1.5,"km":1300,"r":0.08},{"lag":2,"km":1300,"r":0.18},{"lag":2.5,"km":1300,"r":0.08},{"lag":3,"km":1300,"r":0},{"lag":3.5,"km":1300,"r":0},{"lag":4,"km":1300,"r":0},{"lag":4.5,"km":1300,"r":0},{"lag":5,"km":1300,"r":0},{"lag":5.5,"km":1300,"r":0},{"lag":6,"km":1300,"r":0},{"lag":6.5,"km":1300,"r":0},{"lag":7,"km":1300,"r":0},{"lag":7.5,"km":1300,"r":0},{"lag":8,"km":1300,"r":0},{"lag":8.5,"km":1300,"r":0},{"lag":9,"km":1300,"r":0},{"lag":9.5,"km":1300,"r":0},{"lag":10,"km":1300,"r":0},
{"lag":-10,"km":1400,"r":0},{"lag":-9.5,"km":1400,"r":0},{"lag":-9,"km":1400,"r":0},{"lag":-8.5,"km":1400,"r":0},{"lag":-8,"km":1400,"r":0},{"lag":-7.5,"km":1400,"r":0},{"lag":-7,"km":1400,"r":0},{"lag":-6.5,"km":1400,"r":0},{"lag":-6,"km":1400,"r":0},{"lag":-5.5,"km":1400,"r":0},{"lag":-5,"km":1400,"r":0},{"lag":-4.5,"km":1400,"r":0},{"lag":-4,"km":1400,"r":0},{"lag":-3.5,"km":1400,"r":0.08},{"lag":-3,"km":1400,"r":0.08},{"lag":-2.5,"km":1400,"r":0.08},{"lag":-2,"km":1400,"r":0.13},{"lag":-1.5,"km":1400,"r":0},{"lag":-1,"km":1400,"r":-0.18},{"lag":-0.5,"km":1400,"r":-0.33},{"lag":0,"km":1400,"r":-0.48},{"lag":0.5,"km":1400,"r":-0.33},{"lag":1,"km":1400,"r":-0.13},{"lag":1.5,"km":1400,"r":0.08},{"lag":2,"km":1400,"r":0.18},{"lag":2.5,"km":1400,"r":0.13},{"lag":3,"km":1400,"r":0},{"lag":3.5,"km":1400,"r":0},{"lag":4,"km":1400,"r":0},{"lag":4.5,"km":1400,"r":0},{"lag":5,"km":1400,"r":0},{"lag":5.5,"km":1400,"r":0},{"lag":6,"km":1400,"r":0},{"lag":6.5,"km":1400,"r":0},{"lag":7,"km":1400,"r":0},{"lag":7.5,"km":1400,"r":0},{"lag":8,"km":1400,"r":0},{"lag":8.5,"km":1400,"r":0},{"lag":9,"km":1400,"r":0},{"lag":9.5,"km":1400,"r":0},{"lag":10,"km":1400,"r":0},
{"lag":-10,"km":1500,"r":0},{"lag":-9.5,"km":1500,"r":0},{"lag":-9,"km":1500,"r":0},{"lag":-8.5,"km":1500,"r":0},{"lag":-8,"km":1500,"r":0},{"lag":-7.5,"km":1500,"r":0},{"lag":-7,"km":1500,"r":0},{"lag":-6.5,"km":1500,"r":0},{"lag":-6,"km":1500,"r":0},{"lag":-5.5,"km":1500,"r":0},{"lag":-5,"km":1500,"r":0},{"lag":-4.5,"km":1500,"r":0},{"lag":-4,"km":1500,"r":0},{"lag":-3.5,"km":1500,"r":0.08},{"lag":-3,"km":1500,"r":0.08},{"lag":-2.5,"km":1500,"r":0.08},{"lag":-2,"km":1500,"r":0.13},{"lag":-1.5,"km":1500,"r":0},{"lag":-1,"km":1500,"r":-0.18},{"lag":-0.5,"km":1500,"r":-0.33},{"lag":0,"km":1500,"r":-0.48},{"lag":0.5,"km":1500,"r":-0.33},{"lag":1,"km":1500,"r":-0.13},{"lag":1.5,"km":1500,"r":0.08},{"lag":2,"km":1500,"r":0.18},{"lag":2.5,"km":1500,"r":0.13},{"lag":3,"km":1500,"r":0},{"lag":3.5,"km":1500,"r":0},{"lag":4,"km":1500,"r":0},{"lag":4.5,"km":1500,"r":0},{"lag":5,"km":1500,"r":0},{"lag":5.5,"km":1500,"r":0},{"lag":6,"km":1500,"r":0},{"lag":6.5,"km":1500,"r":0},{"lag":7,"km":1500,"r":0},{"lag":7.5,"km":1500,"r":0},{"lag":8,"km":1500,"r":0},{"lag":8.5,"km":1500,"r":0},{"lag":9,"km":1500,"r":0},{"lag":9.5,"km":1500,"r":0},{"lag":10,"km":1500,"r":0}
]},
"columns":2,
"spacing":{"row":135,"column":38},
"bounds":"flush",
"concat":[
{"title":"2D lead-lag SST-SHF corr. - MPI-ESM-HR","width":930,"height":346,"data":{"name":"sst"},
"transform":[{"calculate":"datum.lag-0.25","as":"lag0"},{"calculate":"datum.lag+0.25","as":"lag1"},{"calculate":"datum.km-50","as":"km0"},{"calculate":"datum.km+50","as":"km1"}],
"resolve":{"axis":{"x":"independent","y":"independent"}},
"layer":[
{"mark":{"type":"rect","clip":true,"strokeWidth":0.6},
"encoding":{
"x":{"field":"lag0","type":"quantitative","scale":{"domain":[-10,10],"nice":false,"zero":false},"axis":{"values":[-10,-8,-6,-4,-2,0,2,4,6,8,10],"labelExpr":"datum.value + ''","title":"Time-lag (month)","titleFontSize":26,"tickSize":-6,"labelPadding":8,"titlePadding":2,"zindex":1}},
"x2":{"field":"lag1"},
"y":{"field":"km0","type":"quantitative","scale":{"domain":[0,1500],"nice":false,"zero":false},"axis":{"values":[0,500,1000,1500],"format":"d","title":"Box-Car Smoothing Lengthscale (Km)","titleFontSize":24,"tickSize":-6,"labelPadding":21,"titlePadding":20,"titleY":150,"zindex":1}},
"y2":{"field":"km1"},
"color":{"field":"r","type":"quantitative","scale":{"type":"threshold","domain":[-0.45,-0.4,-0.35,-0.3,-0.25,-0.2,-0.15,-0.1,-0.05,0.05,0.1,0.15,0.2,0.25,0.3,0.35,0.4,0.45],"range":["#022490","#0638a8","#0c50c2","#1a6ad8","#2a82ea","#4a98ef","#70b0f4","#9ecbf8","#c6dffa","#ffffff","#fcc6c6","#f99494","#f65c5c","#f42a1e","#e81c08","#cc1000","#b00800","#940200","#760000"]},"legend":null},
"stroke":{"field":"r","type":"quantitative","scale":{"type":"threshold","domain":[-0.45,-0.4,-0.35,-0.3,-0.25,-0.2,-0.15,-0.1,-0.05,0.05,0.1,0.15,0.2,0.25,0.3,0.35,0.4,0.45],"range":["#022490","#0638a8","#0c50c2","#1a6ad8","#2a82ea","#4a98ef","#70b0f4","#9ecbf8","#c6dffa","#ffffff","#fcc6c6","#f99494","#f65c5c","#f42a1e","#e81c08","#cc1000","#b00800","#940200","#760000"]},"legend":null}}},
{"mark":{"type":"rect","opacity":0},
"encoding":{
"x":{"field":"lag0","type":"quantitative","axis":{"orient":"top","values":[-10,-8,-6,-4,-2,0,2,4,6,8,10],"labels":false,"title":null,"tickSize":-6,"domain":false,"zindex":1}},
"x2":{"field":"lag1"},
"y":{"field":"km0","type":"quantitative","axis":{"orient":"right","values":[0,500,1000,1500],"labels":false,"title":null,"tickSize":-6,"domain":false,"zindex":1}},
"y2":{"field":"km1"}}}
]},
{"width":27,"height":346,"data":{"name":"bar"},"mark":{"type":"rect"},
"encoding":{
"y":{"field":"lo","type":"quantitative","scale":{"domain":[-0.5,0.5],"nice":false,"zero":false},"axis":{"orient":"right","values":[-0.5,0,0.5],"labelExpr":"datum.value == 0 ? '0' : (datum.value > 0 ? '0.5' : '-0.5')","title":null,"tickSize":3,"labelPadding":5,"domain":false}},
"y2":{"field":"hi"},
"color":{"field":"lo","type":"quantitative","scale":{"type":"threshold","domain":[-0.45,-0.4,-0.35,-0.3,-0.25,-0.2,-0.15,-0.1,-0.05,0.05,0.1,0.15,0.2,0.25,0.3,0.35,0.4,0.45],"range":["#022490","#0638a8","#0c50c2","#1a6ad8","#2a82ea","#4a98ef","#70b0f4","#9ecbf8","#c6dffa","#ffffff","#fcc6c6","#f99494","#f65c5c","#f42a1e","#e81c08","#cc1000","#b00800","#940200","#760000"]},"legend":null}}},
{"title":"2D lead-lag SST tendency-SHF corr. - MPI-ESM-HR","width":930,"height":350,"data":{"name":"tend"},
"transform":[{"calculate":"datum.lag-0.25","as":"lag0"},{"calculate":"datum.lag+0.25","as":"lag1"},{"calculate":"datum.km-50","as":"km0"},{"calculate":"datum.km+50","as":"km1"}],
"resolve":{"axis":{"x":"independent","y":"independent"}},
"layer":[
{"mark":{"type":"rect","clip":true,"strokeWidth":0.6},
"encoding":{
"x":{"field":"lag0","type":"quantitative","scale":{"domain":[-10,10],"nice":false,"zero":false},"axis":{"values":[-10,-8,-6,-4,-2,0,2,4,6,8,10],"labelExpr":"datum.value + ''","title":"Time-lag (month)","titleFontSize":26,"tickSize":-6,"labelPadding":8,"titlePadding":2,"zindex":1}},
"x2":{"field":"lag1"},
"y":{"field":"km0","type":"quantitative","scale":{"domain":[0,1500],"nice":false,"zero":false},"axis":{"values":[0,500,1000,1500],"format":"d","title":"Box-Car Smoothing Lengthscale (Km)","titleFontSize":24,"tickSize":-6,"labelPadding":21,"titlePadding":20,"titleY":148,"zindex":1}},
"y2":{"field":"km1"},
"color":{"field":"r","type":"quantitative","scale":{"type":"threshold","domain":[-0.45,-0.4,-0.35,-0.3,-0.25,-0.2,-0.15,-0.1,-0.05,0.05,0.1,0.15,0.2,0.25,0.3,0.35,0.4,0.45],"range":["#022490","#0638a8","#0c50c2","#1a6ad8","#2a82ea","#4a98ef","#70b0f4","#9ecbf8","#c6dffa","#ffffff","#fcc6c6","#f99494","#f65c5c","#f42a1e","#e81c08","#cc1000","#b00800","#940200","#760000"]},"legend":null},
"stroke":{"field":"r","type":"quantitative","scale":{"type":"threshold","domain":[-0.45,-0.4,-0.35,-0.3,-0.25,-0.2,-0.15,-0.1,-0.05,0.05,0.1,0.15,0.2,0.25,0.3,0.35,0.4,0.45],"range":["#022490","#0638a8","#0c50c2","#1a6ad8","#2a82ea","#4a98ef","#70b0f4","#9ecbf8","#c6dffa","#ffffff","#fcc6c6","#f99494","#f65c5c","#f42a1e","#e81c08","#cc1000","#b00800","#940200","#760000"]},"legend":null}}},
{"mark":{"type":"rect","opacity":0},
"encoding":{
"x":{"field":"lag0","type":"quantitative","axis":{"orient":"top","values":[-10,-8,-6,-4,-2,0,2,4,6,8,10],"labels":false,"title":null,"tickSize":-6,"domain":false,"zindex":1}},
"x2":{"field":"lag1"},
"y":{"field":"km0","type":"quantitative","axis":{"orient":"right","values":[0,500,1000,1500],"labels":false,"title":null,"tickSize":-6,"domain":false,"zindex":1}},
"y2":{"field":"km1"}}}
]},
{"width":27,"height":350,"data":{"name":"bar"},"mark":{"type":"rect"},
"encoding":{
"y":{"field":"lo","type":"quantitative","scale":{"domain":[-0.5,0.5],"nice":false,"zero":false},"axis":{"orient":"right","values":[-0.5,0,0.5],"labelExpr":"datum.value == 0 ? '0' : (datum.value > 0 ? '0.5' : '-0.5')","title":null,"tickSize":3,"labelPadding":5,"domain":false}},
"y2":{"field":"hi"},
"color":{"field":"lo","type":"quantitative","scale":{"type":"threshold","domain":[-0.45,-0.4,-0.35,-0.3,-0.25,-0.2,-0.15,-0.1,-0.05,0.05,0.1,0.15,0.2,0.25,0.3,0.35,0.4,0.45],"range":["#022490","#0638a8","#0c50c2","#1a6ad8","#2a82ea","#4a98ef","#70b0f4","#9ecbf8","#c6dffa","#ffffff","#fcc6c6","#f99494","#f65c5c","#f42a1e","#e81c08","#cc1000","#b00800","#940200","#760000"]},"legend":null}}}
]
}
